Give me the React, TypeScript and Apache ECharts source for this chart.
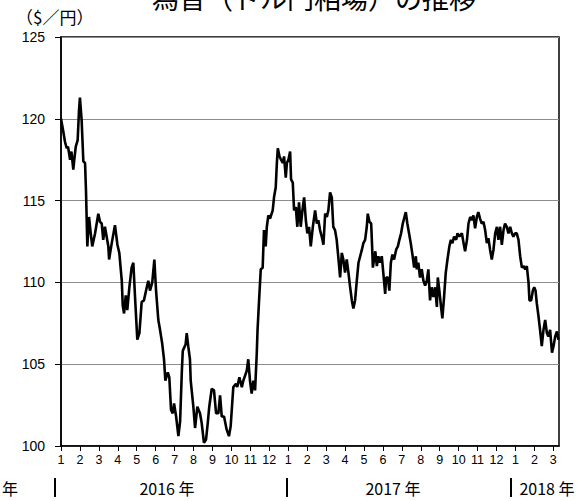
import React, { useEffect, useRef } from "react";
import * as echarts from "echarts";

// months since 2016-01-01 (0 = Jan 2016, 12 = Jan 2017, 24 = Jan 2018)
const monthPos: number[] = [
  0.00, 0.11, 0.21, 0.30, 0.37, 0.48, 0.55, 0.65, 0.71, 0.78, 0.88, 0.95, 1.00, 1.09, 1.18, 1.27, 1.32, 1.39, 1.48, 1.57,
  1.65, 1.80, 1.97, 2.06, 2.15, 2.23, 2.32, 2.50, 2.54, 2.68, 2.85, 2.98, 3.08, 3.21, 3.26, 3.33, 3.42, 3.50, 3.61, 3.73,
  3.82, 3.91, 4.03, 4.14, 4.26, 4.38, 4.53, 4.61, 4.70, 4.82, 4.93, 5.02, 5.14, 5.23, 5.34, 5.44, 5.51, 5.64, 5.72, 5.81,
  5.90, 5.97, 6.08, 6.20, 6.29, 6.38, 6.43, 6.50, 6.58, 6.64, 6.72, 6.81, 6.85, 6.92, 6.99, 7.08, 7.20, 7.34, 7.43, 7.55,
  7.66, 7.75, 7.83, 7.96, 8.08, 8.19, 8.31, 8.40, 8.49, 8.61, 8.75, 8.87, 8.96, 9.10, 9.24, 9.31, 9.42, 9.55, 9.63, 9.81,
  9.89, 9.98, 10.07, 10.16, 10.25, 10.34, 10.38, 10.46, 10.55, 10.65, 10.72, 10.81, 10.87, 10.95, 11.04, 11.18, 11.25, 11.34, 11.40, 11.45,
  11.54, 11.62, 11.71, 11.78, 11.87, 11.93, 12.01, 12.10, 12.15, 12.24, 12.31, 12.40, 12.48, 12.57, 12.66, 12.75, 12.84, 12.93, 13.01, 13.10,
  13.19, 13.30, 13.42, 13.51, 13.59, 13.68, 13.77, 13.86, 13.95, 14.04, 14.12, 14.21, 14.30, 14.38, 14.47, 14.56, 14.64, 14.74, 14.83, 14.91,
  15.00, 15.09, 15.18, 15.27, 15.36, 15.44, 15.53, 15.62, 15.71, 15.80, 15.89, 15.97, 16.06, 16.15, 16.20, 16.29, 16.38, 16.43, 16.47, 16.53,
  16.60, 16.68, 16.76, 16.85, 16.94, 17.02, 17.12, 17.17, 17.26, 17.34, 17.42, 17.50, 17.59, 17.70, 17.79, 17.87, 17.96, 18.05, 18.14, 18.21,
  18.29, 18.38, 18.47, 18.56, 18.65, 18.74, 18.79, 18.87, 18.96, 19.05, 19.14, 19.23, 19.32, 19.40, 19.49, 19.58, 19.67, 19.76, 19.85, 19.90,
  19.98, 20.07, 20.14, 20.23, 20.32, 20.41, 20.51, 20.59, 20.67, 20.76, 20.87, 20.94, 21.04, 21.17, 21.26, 21.34, 21.44, 21.52, 21.61, 21.70,
  21.78, 21.87, 21.96, 22.04, 22.13, 22.22, 22.31, 22.40, 22.49, 22.57, 22.66, 22.75, 22.84, 22.93, 23.02, 23.10, 23.19, 23.28, 23.37, 23.45,
  23.54, 23.63, 23.72, 23.81, 23.89, 23.98, 24.07, 24.16, 24.25, 24.34, 24.43, 24.52, 24.60, 24.69, 24.74, 24.83, 24.92, 24.99, 25.06, 25.13,
  25.22, 25.30, 25.39, 25.48, 25.57, 25.66, 25.74, 25.83, 25.93, 26.01, 26.10, 26.19, 26.27,
];

// USD/JPY rate (yen per dollar)
const usdJpy: number[] = [
  120.0, 119.3, 118.6, 118.2, 118.3, 117.5, 118.0, 116.9, 117.6, 118.3, 118.7, 120.5, 121.3, 119.9, 117.4, 117.3, 115.6, 112.2, 114.0, 113.0,
  112.2, 113.0, 114.2, 113.7, 113.6, 112.6, 113.4, 112.2, 111.4, 112.4, 113.5, 112.3, 111.8, 110.1, 108.6, 108.1, 109.2, 108.3, 109.7, 110.9,
  111.2, 109.1, 106.5, 106.9, 108.8, 108.9, 109.7, 110.1, 109.5, 110.0, 111.4, 109.5, 107.7, 107.1, 106.3, 105.3, 104.0, 104.5, 104.2, 102.2,
  102.0, 102.6, 101.8, 100.6, 101.5, 104.5, 105.8, 106.0, 106.2, 106.9, 106.1, 105.3, 104.0, 103.2, 102.4, 101.1, 102.4, 102.0, 101.4, 100.2,
  100.4, 101.4, 102.4, 103.5, 103.4, 102.0, 102.0, 103.1, 101.8, 101.8, 101.0, 100.6, 101.2, 103.6, 103.8, 103.6, 104.2, 103.6, 104.0, 104.6,
  105.3, 104.0, 103.2, 104.0, 103.4, 105.7, 107.1, 108.9, 110.8, 110.9, 113.2, 112.2, 113.4, 114.1, 113.9, 114.4, 115.2, 115.8, 117.3, 118.2,
  117.7, 117.5, 117.3, 117.7, 116.4, 117.3, 117.5, 118.0, 116.3, 116.1, 114.4, 114.6, 113.4, 114.9, 113.4, 114.4, 115.2, 113.8, 113.0, 113.4,
  112.2, 113.4, 114.4, 113.6, 113.8, 113.2, 112.8, 112.3, 114.2, 114.0, 114.4, 115.5, 115.2, 113.4, 113.2, 112.6, 111.6, 110.3, 111.8, 111.4,
  110.6, 111.4, 110.6, 109.7, 108.9, 108.4, 108.9, 110.1, 111.2, 111.6, 112.0, 112.4, 112.6, 113.4, 114.2, 113.7, 113.6, 112.2, 110.9, 111.4,
  111.9, 111.0, 111.6, 111.2, 111.6, 110.6, 109.3, 110.3, 110.3, 109.5, 111.2, 111.7, 111.4, 112.0, 112.2, 112.6, 113.0, 113.6, 114.0, 114.3,
  113.6, 113.0, 112.4, 111.7, 110.9, 111.6, 110.8, 111.2, 110.3, 110.8, 110.1, 109.8, 110.1, 110.8, 108.9, 109.7, 109.1, 109.7, 108.5, 110.3,
  109.5, 108.5, 107.8, 109.1, 110.6, 111.4, 112.2, 112.6, 112.4, 112.8, 112.6, 113.0, 112.8, 113.0, 112.4, 111.9, 112.6, 113.6, 114.0, 113.8,
  114.1, 113.3, 114.0, 114.3, 113.9, 113.6, 113.7, 113.2, 112.4, 112.7, 112.0, 111.4, 112.0, 113.0, 113.4, 112.6, 113.4, 112.3, 113.2, 113.6,
  113.4, 113.0, 113.4, 113.0, 112.8, 113.0, 113.0, 112.6, 111.6, 110.9, 111.0, 110.8, 111.0, 110.0, 108.9, 108.9, 109.5, 109.7, 109.5, 108.7,
  107.9, 107.1, 106.1, 107.1, 107.7, 106.9, 106.7, 107.1, 105.7, 106.1, 106.7, 107.0, 106.5,
];

const yTicks: number[] = [100, 105, 110, 115, 120, 125];
const monthLabels: string[] = ["1", "2", "3", "4", "5", "6", "7", "8", "9", "10", "11", "12"];
const yearLabels: string[] = ["2015 年", "2016 年", "2017 年", "2018 年"];
const titleText = "為替（ドル円相場）の推移";
const unitText = "（$／円）";

const FONT = "'Liberation Sans', 'Noto Sans CJK JP', sans-serif";
const CJK = "'Noto Sans CJK JP', sans-serif";

export default function App() {
  const ref = useRef<HTMLDivElement>(null);
  useEffect(() => {
    if (!ref.current) return;
    const chart = echarts.init(ref.current, null, { renderer: "svg" });
    const data = monthPos.map((m, i) => [m, usdJpy[i]]);
    const sepY1 = 478;
    const sepY2 = 497;
    const yearStyle = { textVerticalAlign: "middle", fontSize: 16, fontFamily: CJK, fill: "#000" };
    chart.setOption({
      animation: false,
      backgroundColor: "#fff",
      grid: {
        left: 61,
        right: 25,
        top: 37,
        bottom: 55,
        show: true,
        borderColor: "#000",
        borderWidth: 1.5,
        backgroundColor: "transparent",
      },
      xAxis: {
        type: "value",
        min: 0,
        max: 26.3,
        interval: 1,
        axisLine: { show: true, lineStyle: { color: "#000", width: 1.5 } },
        axisTick: { show: true, inside: false, length: 5, lineStyle: { color: "#000", width: 1 } },
        splitLine: { show: false },
        axisLabel: {
          margin: 8,
          color: "#000",
          fontSize: 12.5,
          fontFamily: FONT,
          showMaxLabel: false,
          formatter: (v: number) => {
            if (Math.abs(v - Math.round(v)) > 1e-6) return "";
            return monthLabels[((Math.round(v) % 12) + 12) % 12];
          },
        },
      },
      yAxis: {
        type: "value",
        min: yTicks[0],
        max: yTicks[yTicks.length - 1],
        interval: 5,
        axisLine: { show: true, lineStyle: { color: "#000", width: 1.5 } },
        axisTick: { show: true, inside: false, length: 6, lineStyle: { color: "#000", width: 1 } },
        splitLine: { show: true, lineStyle: { color: "#8c8c8c", width: 1.2 } },
        axisLabel: { margin: 16, color: "#000", fontSize: 14, fontFamily: FONT },
      },
      graphic: [
        {
          type: "text",
          style: {
            text: titleText,
            x: 314,
            y: -16,
            textAlign: "center",
            textVerticalAlign: "top",
            fontSize: 27,
            fontFamily: CJK,
            fill: "#000",
          },
        },
        {
          type: "text",
          style: {
            text: unitText,
            x: 16,
            y: 8,
            fontSize: 17,
            fontFamily: CJK,
            fill: "#000",
          },
        },
        { type: "text", style: { ...yearStyle, text: yearLabels[0], x: 18, y: 488, textAlign: "right" } },
        { type: "text", style: { ...yearStyle, text: yearLabels[1], x: 167, y: 488, textAlign: "center" } },
        { type: "text", style: { ...yearStyle, text: yearLabels[2], x: 393, y: 488, textAlign: "center" } },
        { type: "text", style: { ...yearStyle, text: yearLabels[3], x: 547, y: 488, textAlign: "center" } },
        { type: "line", shape: { x1: 55, y1: sepY1, x2: 55, y2: sepY2 }, style: { stroke: "#000", lineWidth: 2 } },
        { type: "line", shape: { x1: 287, y1: sepY1, x2: 287, y2: sepY2 }, style: { stroke: "#000", lineWidth: 2 } },
        { type: "line", shape: { x1: 511, y1: sepY1, x2: 511, y2: sepY2 }, style: { stroke: "#000", lineWidth: 2 } },
      ],
      series: [
        {
          type: "line",
          data,
          showSymbol: false,
          symbol: "none",
          lineStyle: { color: "#000", width: 2.6 },
          clip: true,
          z: 5,
        },
      ],
    });
    return () => chart.dispose();
  }, []);
  return (
    <div
      ref={ref}
      style={{ position: "fixed", left: 0, top: 0, width: 584, height: 501, background: "#fff" }}
    />
  );
}
